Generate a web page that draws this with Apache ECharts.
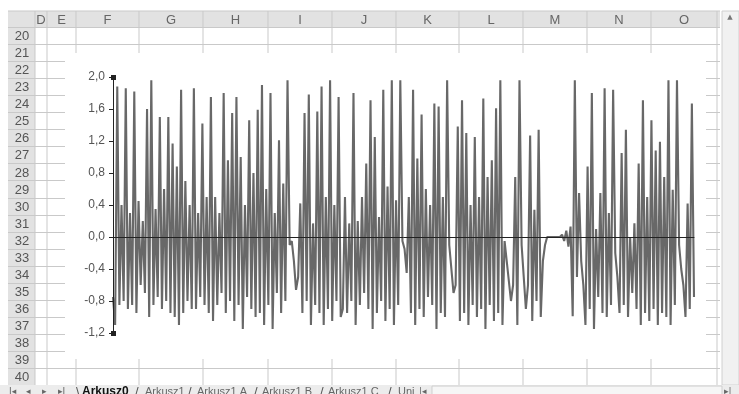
<!DOCTYPE html>
<html>
<head>
<meta charset="utf-8">
<script src="https://cdn.jsdelivr.net/npm/echarts@6/dist/echarts.min.js"></script>
<style>
html, body { margin: 0; padding: 0; background: #fff; }
#chart { width: 739px; height: 394px; }
</style>
</head>
<body>
<div id="chart"></div>
<script>
// sheet labels
const columnLabels = ['D', 'E', 'F', 'G', 'H', 'I', 'J', 'K', 'L', 'M', 'N', 'O'];
const rowLabels = ['20', '21', '22', '23', '24', '25', '26', '27', '28', '29', '30',
    '31', '32', '33', '34', '35', '36', '37', '38', '39', '40'];
const sheetTabs = ['Arkusz0', 'Arkusz1', 'Arkusz1 A', 'Arkusz1 B', 'Arkusz1 C', 'Uni'];

// signal, split in five stretches (left to right)
const signalA = [-0.75, -1.1, 1.88, -0.85, 0.4, -0.8, 1.86, -0.9, 0.3, -0.85, 1.82, -0.95, 0.45, -0.6,
    0.2, -0.7, 1.6, -1.0, 1.96, -0.85, 0.35, -0.75, 1.5, -0.9, 0.6, -0.8, 1.5, -0.95, 1.17, -1.0, 0.88,
    -1.1, 1.84, -0.95, 0.7, -0.8, 0.4, -0.9, 1.86, -0.9, 0.3, -0.75, 1.42, -0.85, 0.5, -0.95, 1.75,
    -1.05, 0.5, -0.85, 0.3, -0.7, 1.8, -0.95];
const signalB = [0.96, -0.8, 1.55, -1.05, 1.75, -0.85, 1.0, -1.15, 0.4, -0.75, 1.46, -0.9, 0.8, -1.0,
    1.59, -0.95, 1.9, -1.1, 0.6, -0.85, 1.8, -1.15, 0.3, -0.7, 1.21, -0.95, 0.67, -0.8, 1.96, -0.1,
    -0.05, -0.3, -0.66, -0.5, 0.42, -0.95, 1.55, -0.8, 1.78, -1.1, 0.17, -0.85, 1.57, -0.95, 1.88,
    -1.1, 0.5, -0.9, 1.96, -1.05, 0.4, -0.8, 1.75, -1.0];
const signalC = [-0.9, 0.5, -0.95, 0.17, -0.8, 1.8, -1.1, 0.2, -0.85, 0.5, -0.7, 0.92, -0.9, 1.71,
    -1.15, 1.25, -0.95, 0.25, -0.8, 1.84, -1.05, 0.63, -0.9, 1.96, -1.1, 0.46, -0.85, 1.96, -0.05,
    -0.15, -0.45, 0.5, -0.95, 1.84, -1.1, 0.98, -0.9, 1.53, -1.0, 0.6, -0.75, 0.4, -0.85, 1.67, -1.15,
    1.63, -0.95, 0.5, -1.0, 1.96, -0.1, -0.4, -0.7, -0.6, 1.38, -1.05];
const signalD = [1.71, -0.95, 1.3, -1.1, 0.4, -0.85, 1.25, -1.0, 0.5, -0.9, 1.73, -1.15, 0.75, -0.85,
    0.96, -1.05, 1.61, -0.95, 1.96, -1.1, -0.05, -0.3, -0.55, -0.8, -0.6, 0.75, -1.1, 1.96, -0.1, -0.5,
    -0.9, -0.6, 1.27, -1.05, 0.34, -0.8, 1.34, -1.0, -0.3, -0.1, 0, 0, 0, 0, 0, 0, 0, 0.03, -0.05,
    0.08, -0.12, 0.13, -0.99, 1.96, -0.5, 0.55];
const signalE = [-0.3, -0.6, -1.1, 0.88, -0.9, 1.8, -1.15, 0.1, -0.75, 0.55, -0.95, 1.86, -1.0, 0.3,
    -0.85, 1.84, -0.2, -0.5, -0.95, 1.05, -0.85, 1.34, -1.0, 0.0, -0.7, 0.17, -0.9, 0.92, -1.1, 1.71,
    -0.95, 0.5, -1.05, 1.46, -0.9, 1.08, -1.1, 1.19, -0.95, 0.75, -1.0, 1.96, -1.1, 0.59, -0.85, 1.96,
    -0.1, -0.4, -0.6, -1.0, 0.42, -0.9, 1.67, -0.75];

const signal = [...signalA, ...signalB, ...signalC, ...signalD, ...signalE];
const sampleIndex = signal.map((_, i) => i);

// sheet layout
const colEdges = [35, 47, 76, 139, 203, 268, 332, 396, 459, 523, 587, 651, 717];
const headerTop = 11;
const rowTop = 27;
const rowH = 17.05;
const tabX = [82, 145, 197, 262, 328, 398];
const sepX = [76, 135, 188, 254, 320, 388];
const navX = [9, 26, 42, 58];
const navGlyphs = ['I◂', '◂', '▸', '▸I'];
const font = 'Liberation Sans';
const gridColor = '#c9c9c9';

function buildSheet() {
    const els = [];
    const bottom = rowTop + rowLabels.length * rowH;
    const tabY = bottom + 7;
    // header row and row-number column
    els.push({ type: 'rect', z: 1, shape: { x: 8, y: headerTop, width: 712, height: rowTop - headerTop }, style: { fill: '#e2e2e2' } });
    els.push({ type: 'rect', z: 1, shape: { x: 8, y: headerTop, width: colEdges[0] - 8, height: bottom - headerTop }, style: { fill: '#e2e2e2' } });
    // column lines
    colEdges.forEach(x => {
        els.push({ type: 'line', z: 1, shape: { x1: x, y1: headerTop, x2: x, y2: bottom }, style: { stroke: gridColor, lineWidth: 1 } });
    });
    // row lines
    for (let k = 0; k <= rowLabels.length; k++) {
        const y = Math.round(rowTop + k * rowH) + 0.5;
        els.push({ type: 'line', z: 1, shape: { x1: 8, y1: y, x2: 720, y2: y }, style: { stroke: gridColor, lineWidth: 1 } });
    }
    els.push({ type: 'line', z: 1, shape: { x1: 8, y1: headerTop, x2: 720, y2: headerTop }, style: { stroke: gridColor } });
    // column letters
    columnLabels.forEach((c, i) => {
        els.push({
            type: 'text', z: 3,
            style: { text: c, x: (colEdges[i] + colEdges[i + 1]) / 2, y: (headerTop + rowTop) / 2 + 1, align: 'center', verticalAlign: 'middle', fill: '#666', font: '13px ' + font },
        });
    });
    // row numbers
    rowLabels.forEach((r, i) => {
        els.push({
            type: 'text', z: 3,
            style: { text: r, x: 22, y: rowTop + (i + 0.5) * rowH + 1, align: 'center', verticalAlign: 'middle', fill: '#555', font: '13px ' + font },
        });
    });
    // embedded chart object
    els.push({ type: 'rect', z: 2, shape: { x: 65, y: 53, width: 641, height: 306 }, style: { fill: '#fff' } });
    // vertical scrollbar
    els.push({ type: 'rect', z: 2, shape: { x: 722, y: headerTop, width: 17, height: bottom - headerTop }, style: { fill: '#f1f1f1', stroke: '#d0d0d0' } });
    els.push({ type: 'text', z: 3, style: { text: '▲', x: 730, y: 17, align: 'center', verticalAlign: 'middle', fill: '#777', font: '7px DejaVu Sans' } });
    // sheet tab bar
    els.push({ type: 'rect', z: 2, shape: { x: 0, y: bottom, width: 739, height: 394 - bottom }, style: { fill: '#ececec' } });
    els.push({ type: 'rect', z: 2, shape: { x: 432, y: bottom + 1, width: 290, height: 14 }, style: { fill: '#f6f6f6', stroke: '#cfcfcf' } });
    navGlyphs.forEach((g, i) => {
        els.push({ type: 'text', z: 3, style: { text: g, x: navX[i], y: tabY, verticalAlign: 'middle', fill: '#666', font: '9px DejaVu Sans' } });
    });
    sepX.forEach((x, i) => {
        els.push({ type: 'text', z: 3, style: { text: i === 0 ? '\\' : '/', x, y: tabY, verticalAlign: 'middle', fill: '#555', font: '13px ' + font } });
    });
    sheetTabs.forEach((t, i) => {
        els.push({
            type: 'text', z: 3,
            style: { text: t, x: tabX[i], y: tabY, verticalAlign: 'middle', fill: i === 0 ? '#111' : '#666', font: (i === 0 ? 'bold 12px ' : '11px ') + font },
        });
    });
    els.push({ type: 'text', z: 3, style: { text: '|◂', x: 419, y: tabY, verticalAlign: 'middle', fill: '#666', font: '9px DejaVu Sans' } });
    els.push({ type: 'text', z: 3, style: { text: '▸|', x: 724, y: tabY, verticalAlign: 'middle', fill: '#666', font: '9px DejaVu Sans' } });
    return els;
}

const chart = echarts.init(document.getElementById('chart'), null, { renderer: 'canvas' });

const option = {
    animation: false,
    backgroundColor: '#fff',
    grid: { left: 113, right: 45, top: 77, bottom: 61 },
    xAxis: {
        type: 'category',
        data: sampleIndex,
        boundaryGap: false,
        z: 12,
        axisLine: { onZero: true, lineStyle: { color: '#222', width: 1 } },
        axisTick: { show: false },
        axisLabel: { show: false },
        splitLine: { show: false },
    },
    yAxis: {
        type: 'value',
        min: -1.2,
        max: 2.0,
        interval: 0.4,
        z: 12,
        axisLine: { show: true, lineStyle: { color: '#222', width: 1 } },
        axisTick: { show: true, length: 4, lineStyle: { color: '#222' } },
        axisLabel: {
            color: '#555',
            fontFamily: font,
            fontSize: 12,
            margin: 8,
            formatter: v => v.toFixed(1).replace('.', ','),
        },
        splitLine: { show: false },
    },
    graphic: {
        elements: [
            ...buildSheet(),
            // axis selection handles
            { type: 'rect', z: 20, shape: { x: 111, y: 75, width: 5, height: 5 }, style: { fill: '#222' } },
            { type: 'rect', z: 20, shape: { x: 111, y: 331, width: 5, height: 5 }, style: { fill: '#222' } },
        ],
    },
    series: [{
        type: 'line',
        data: signal,
        z: 10,
        showSymbol: false,
        lineStyle: { color: '#686868', width: 2.1 },
    }],
};

chart.setOption(option);
</script>
</body>
</html>
